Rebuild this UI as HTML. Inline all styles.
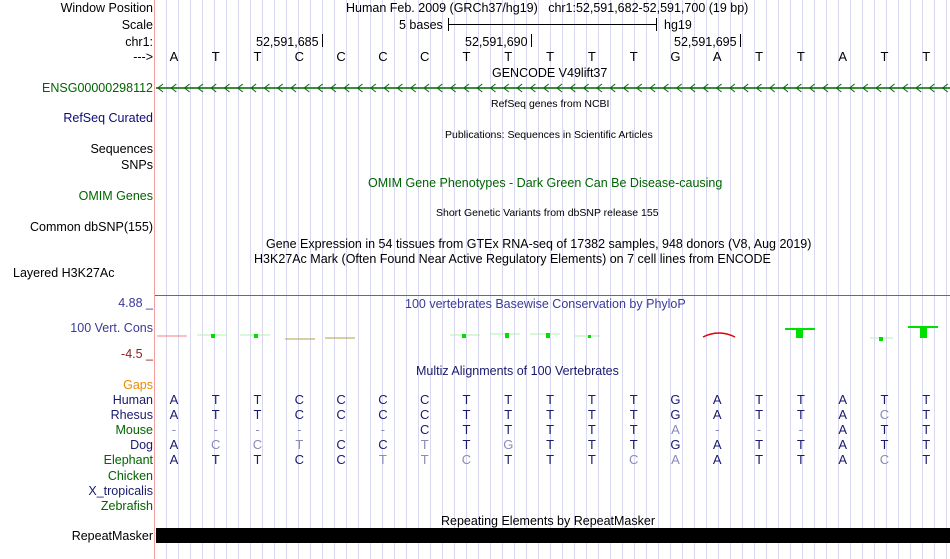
<!DOCTYPE html>
<html><head><meta charset="utf-8"><style>
body{margin:0;width:950px;height:559px;overflow:hidden;background:#fff;font-family:"Liberation Sans",sans-serif;font-size:12.5px;color:#000;position:relative}
#grid{position:absolute;left:155px;top:0;width:795px;height:559px;background:repeating-linear-gradient(90deg,transparent 0,transparent 11px,#d8d8f0 11px,#d8d8f0 12px);background-position:0 0}
#red{position:absolute;left:154px;top:0;width:1px;height:559px;background:#f4a0a0}
.l{position:absolute;right:797px;white-space:nowrap;text-align:right;line-height:14px}
.t{position:absolute;white-space:nowrap;line-height:14px}
.row{position:absolute;left:153px;width:794px;display:flex;line-height:14px;font-size:13px}
.row span{width:41.8px;text-align:center}
.n{color:#1a1a6e}.g{color:#8a8ab8}
.nv{color:#1a1a6e}.gr{color:#006400}
</style></head><body>
<div id="grid"></div><div id="red"></div>

<div class="l" style="top:1px">Window Position</div>
<div class="t" style="left:346px;top:1px">Human Feb. 2009 (GRCh37/hg19)&nbsp;&nbsp;&nbsp;chr1:52,591,682-52,591,700 (19 bp)</div>
<div class="l" style="top:18px">Scale</div>
<div class="t" style="left:399px;top:18px">5 bases</div>
<div style="position:absolute;left:448px;top:24px;width:208px;height:1px;background:#000"></div>
<div style="position:absolute;left:448px;top:18px;width:1px;height:13px;background:#000"></div>
<div style="position:absolute;left:656px;top:18px;width:1px;height:13px;background:#000"></div>
<div class="t" style="left:664px;top:18px">hg19</div>
<div class="l" style="top:35px">chr1:</div>
<div class="t" style="left:256px;top:35px">52,591,685</div>
<div style="position:absolute;left:322px;top:34px;width:1px;height:13px;background:#000"></div>
<div class="t" style="left:465px;top:35px">52,591,690</div>
<div style="position:absolute;left:531px;top:34px;width:1px;height:13px;background:#000"></div>
<div class="t" style="left:674px;top:35px">52,591,695</div>
<div style="position:absolute;left:740px;top:34px;width:1px;height:13px;background:#000"></div>
<div class="l" style="top:50px">---&gt;</div>
<div class="row" style="top:50px"><span>A</span><span>T</span><span>T</span><span>C</span><span>C</span><span>C</span><span>C</span><span>T</span><span>T</span><span>T</span><span>T</span><span>T</span><span>G</span><span>A</span><span>T</span><span>T</span><span>A</span><span>T</span><span>T</span></div>
<div class="t" style="left:492px;top:66px">GENCODE V49lift37</div>
<div class="l gr" style="top:81px">ENSG00000298112</div>
<svg style="position:absolute;left:155px;top:82px" width="795" height="12"><defs><pattern id="p" width="13.3" height="12" patternUnits="userSpaceOnUse"><path d="M8 2 L3 6 L8 10" fill="none" stroke="#006400" stroke-width="1"/></pattern></defs><rect x="0" y="0" width="795" height="12" fill="url(#p)"/><line x1="1" y1="6" x2="795" y2="6" stroke="#006400" stroke-width="1.5"/></svg>
<div class="t" style="left:491px;top:97px;font-size:10.5px">RefSeq genes from NCBI</div>
<div class="l nv" style="top:111px;color:#0c0c78">RefSeq Curated</div>
<div class="t" style="left:445px;top:128px;font-size:10.5px">Publications: Sequences in Scientific Articles</div>
<div class="l" style="top:142px">Sequences</div>
<div class="l" style="top:158px">SNPs</div>
<div class="t gr" style="left:368px;top:176px">OMIM Gene Phenotypes - Dark Green Can Be Disease-causing</div>
<div class="l gr" style="top:189px">OMIM Genes</div>
<div class="t" style="left:436px;top:206px;font-size:10.5px">Short Genetic Variants from dbSNP release 155</div>
<div class="l" style="top:220px">Common dbSNP(155)</div>
<div class="t" style="left:266px;top:237px">Gene Expression in 54 tissues from GTEx RNA-seq of 17382 samples, 948 donors (V8, Aug 2019)</div>
<div class="t" style="left:254px;top:252px">H3K27Ac Mark (Often Found Near Active Regulatory Elements) on 7 cell lines from ENCODE</div>
<div class="t" style="left:13px;top:266px">Layered H3K27Ac</div>
<div style="position:absolute;left:155px;top:295px;width:795px;height:1px;background:#6060c0"></div>
<div class="l" style="top:296px;color:#3a3a9a">4.88 _</div>
<div class="t" style="left:405px;top:297px;color:#3a3a9a">100 vertebrates Basewise Conservation by PhyloP</div>
<div class="l" style="top:321px;color:#3a3a9a">100 Vert. Cons</div>
<div class="l" style="top:347px;color:#8b2020">-4.5 _</div>
<svg style="position:absolute;left:155px;top:320px" width="795" height="25">
<g stroke-width="1">
<line x1="2" y1="16" x2="32" y2="16" stroke="#f08080"/>
<line x1="42" y1="15" x2="72" y2="15" stroke="#b0f0b0"/><rect x="56" y="14" width="4" height="4" fill="#00e000"/>
<line x1="85" y1="15" x2="115" y2="15" stroke="#b0f0b0"/><rect x="99" y="14" width="4" height="4" fill="#00e000"/>
<line x1="130" y1="19" x2="160" y2="19" stroke="#b0a040"/>
<line x1="170" y1="18" x2="200" y2="18" stroke="#b0a040"/>
<line x1="295" y1="15" x2="325" y2="15" stroke="#b0f0b0"/><rect x="307" y="14" width="4" height="4" fill="#00e000"/>
<line x1="335" y1="14" x2="365" y2="14" stroke="#b0f0b0"/><rect x="350" y="13" width="4" height="5" fill="#00e000"/>
<line x1="375" y1="14" x2="405" y2="14" stroke="#b0f0b0"/><rect x="391" y="13" width="4" height="5" fill="#00e000"/>
<line x1="420" y1="16" x2="445" y2="16" stroke="#b0f0b0"/><rect x="433" y="15" width="3" height="3" fill="#00e000"/>
<path d="M548 17 Q564 9 580 17" fill="none" stroke="#e00000" stroke-width="1.5"/>
<line x1="630" y1="9" x2="660" y2="9" stroke="#00e000" stroke-width="2"/><rect x="641" y="9" width="7" height="9" fill="#00e000"/>
<line x1="715" y1="18" x2="738" y2="18" stroke="#b0f0b0"/><rect x="724" y="17" width="4" height="4" fill="#00e000"/>
<line x1="753" y1="7" x2="783" y2="7" stroke="#00e000" stroke-width="2"/><rect x="765" y="7" width="7" height="11" fill="#00e000"/>
</g></svg>
<div class="t" style="left:416px;top:364px;color:#1a1a6e">Multiz Alignments of 100 Vertebrates</div>
<div class="l" style="top:378px;color:#e88a00">Gaps</div>
<div class="l nv" style="top:393px">Human</div>
<div class="l nv" style="top:408px">Rhesus</div>
<div class="l gr" style="top:423px">Mouse</div>
<div class="l nv" style="top:438px">Dog</div>
<div class="l gr" style="top:453px">Elephant</div>
<div class="l gr" style="top:469px">Chicken</div>
<div class="l nv" style="top:484px">X_tropicalis</div>
<div class="l gr" style="top:499px">Zebrafish</div>
<div class="row n" style="top:393px"><span>A</span><span>T</span><span>T</span><span>C</span><span>C</span><span>C</span><span>C</span><span>T</span><span>T</span><span>T</span><span>T</span><span>T</span><span>G</span><span>A</span><span>T</span><span>T</span><span>A</span><span>T</span><span>T</span></div>
<div class="row n" style="top:408px"><span>A</span><span>T</span><span>T</span><span>C</span><span>C</span><span>C</span><span>C</span><span>T</span><span>T</span><span>T</span><span>T</span><span>T</span><span>G</span><span>A</span><span>T</span><span>T</span><span>A</span><span class="g">C</span><span>T</span></div>
<div class="row n" style="top:423px"><span class="g">-</span><span class="g">-</span><span class="g">-</span><span class="g">-</span><span class="g">-</span><span class="g">-</span><span>C</span><span>T</span><span>T</span><span>T</span><span>T</span><span>T</span><span class="g">A</span><span class="g">-</span><span class="g">-</span><span class="g">-</span><span>A</span><span>T</span><span>T</span></div>
<div class="row n" style="top:438px"><span>A</span><span class="g">C</span><span class="g">C</span><span class="g">T</span><span>C</span><span>C</span><span class="g">T</span><span>T</span><span class="g">G</span><span>T</span><span>T</span><span>T</span><span>G</span><span>A</span><span>T</span><span>T</span><span>A</span><span>T</span><span>T</span></div>
<div class="row n" style="top:453px"><span>A</span><span>T</span><span>T</span><span>C</span><span>C</span><span class="g">T</span><span class="g">T</span><span class="g">C</span><span>T</span><span>T</span><span>T</span><span class="g">C</span><span class="g">A</span><span>A</span><span>T</span><span>T</span><span>A</span><span class="g">C</span><span>T</span></div>
<div class="t" style="left:441px;top:514px">Repeating Elements by RepeatMasker</div>
<div class="l" style="top:529px">RepeatMasker</div>
<div style="position:absolute;left:156px;top:528px;width:794px;height:15px;background:#000"></div>
</body></html>
